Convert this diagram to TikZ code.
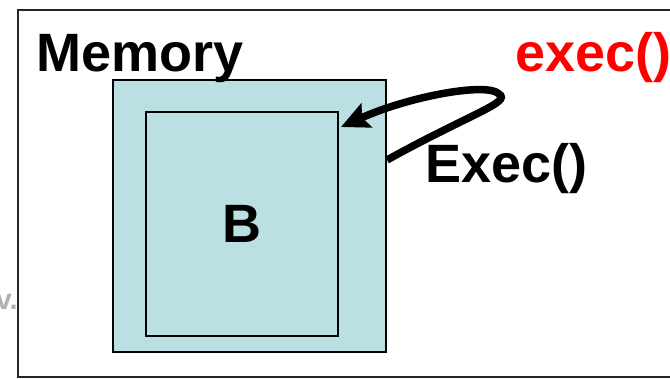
\documentclass[tikz,border=0pt]{standalone}
\usepackage{fontspec}
\setmainfont{Liberation Sans}
\usetikzlibrary{arrows.meta, positioning}

\definecolor{memfill}{RGB}{187,224,227}
\definecolor{execred}{RGB}{255,0,0}

\begin{document}
\begin{tikzpicture}[
        x=1pt, y=-1pt,
        % Styles des textes
        every node/.style = {inner sep=0pt},
        bigtext/.style = {font=\fontsize{54}{62}\selectfont\bfseries},
        % Style des blocs de mémoire
        membox/.style = {
            rectangle,
            draw=black,
            line width=2pt,
            fill=memfill
        },
        % Style de la flèche
        flow/.style = {
            -{Stealth[length=28pt, width=26pt, inset=5pt]},
            line width=7.5pt,
            draw=black
        }
    ]

        \useasboundingbox (0,0) rectangle (670,379);

        % 1. Cadre
        \draw [line width=1.5pt, draw=black!85] (18,10) rectangle (700,377);

        % 2. Blocs
        \node (mem)   [membox, minimum width=273pt, minimum height=272pt] at (249.5,216) {};
        \node (progB) [membox, bigtext, minimum width=192pt, minimum height=224pt] at (242,224) {B};

        % 3. Textes
        \node (title) [bigtext, anchor=base west] at (36,72) {Memory};
        \node (call)  [bigtext, text=execred, anchor=base west] at (515,72) {exec()};
        \node (lbl)   [bigtext, anchor=base west] at (425,183) {Exec()};
        \node (cut)   [font=\fontsize{29}{34}\selectfont\bfseries, text=black!30, anchor=base east] at (18,310) {v.};

        % 4. Flèche
        \coordinate (turn) at (499,94);
        \draw [flow] ([yshift=56pt]mem.east)
            .. controls (470,114) and (512,102) .. (turn)
            .. controls (488,82) and (410,96) .. ([xshift=2pt, yshift=-16pt]progB.north east);

    \end{tikzpicture}
\end{document}
